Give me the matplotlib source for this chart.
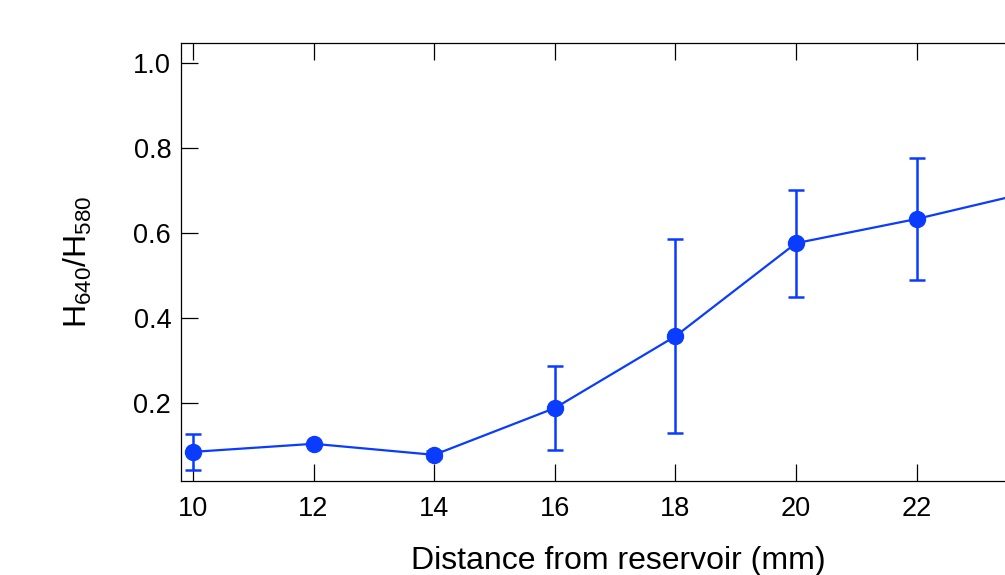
import numpy as np
import matplotlib
matplotlib.use("Agg")
import matplotlib.pyplot as plt

plt.rcParams['font.family'] = ['Liberation Sans', 'DejaVu Sans']
plt.rcParams['mathtext.default'] = 'regular'

# data
distance = [10, 12, 14, 16, 18, 20, 22, 24]
ratio = [0.085, 0.104, 0.078, 0.188, 0.357, 0.576, 0.633, 0.70]
ratio_err = [0.042, 0.003, 0.008, 0.098, 0.228, 0.126, 0.144, 0.13]
xticks = [10, 12, 14, 16, 18, 20, 22]
yticks = [0.2, 0.4, 0.6, 0.8, 1.0]

blue = '#0a3cff'

fig = plt.figure(figsize=(10.05, 5.75), dpi=100)
ax = fig.add_axes([0.180, 0.1635, 0.87, 0.7617])

ax.errorbar(distance, ratio, yerr=ratio_err, color=blue, marker='o',
            markersize=11.5, linewidth=1.6, elinewidth=1.8, capsize=6,
            capthick=1.8)

ax.set_xlim(9.8, 24.3)
ax.set_ylim(0.0165, 1.047)
ax.set_xticks(xticks)
ax.set_yticks(yticks)
ax.set_yticklabels(['%.1f' % v for v in yticks])

ax.tick_params(axis='both', direction='in', length=12.5, width=0.9,
               labelsize=19.5, top=True, right=False)
ax.tick_params(axis='x', pad=11)
ax.tick_params(axis='y', pad=7)
for s in ax.spines.values():
    s.set_linewidth(0.9)

ax.set_xlabel('Distance from reservoir (mm)', fontsize=23, labelpad=17)
ax.set_ylabel('H$_{640}$/H$_{580}$', fontsize=23, labelpad=28)

fig.savefig('out.png', dpi=100)
